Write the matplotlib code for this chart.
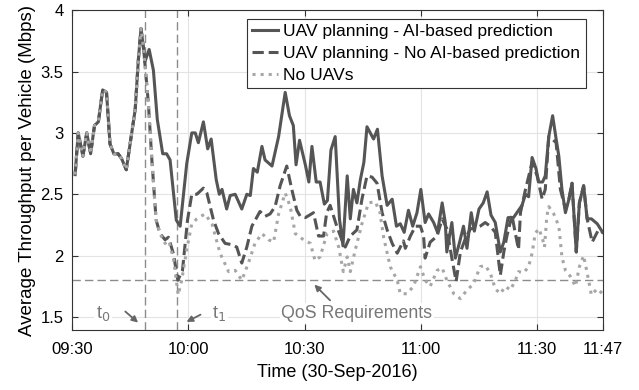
import matplotlib
matplotlib.use("Agg")
import matplotlib.pyplot as plt
import numpy as np

plt.rcParams['font.family'] = ['Liberation Sans', 'DejaVu Sans']

# minutes after 09:30 -- part shared by all three curves (before t0)
t_shared = [0.8, 1.6, 2.8, 3.8, 4.8, 5.8, 6.8, 7.9, 8.9, 9.8, 10.8, 11.9, 12.8,
            14.0, 15.4, 16.3, 17.1, 17.8, 18.4]
v_shared = [2.66, 3.0, 2.81, 3.0, 2.83, 3.06, 3.09, 3.35, 3.33, 2.91, 2.83, 2.83,
            2.79, 2.70, 3.0, 3.19, 3.59, 3.85, 3.70]

# UAV planning - AI-based prediction
t_ai = [18.8, 19.9, 21.0, 22.0, 23.4, 24.4, 25.3, 26.9, 27.9, 29.6, 30.9, 31.8,
        32.6, 33.9, 35.0, 35.9, 37.2, 38.0, 38.7, 39.9, 40.8, 42.1, 43.8, 45.1,
        46.0, 46.8, 47.8, 49.0, 49.8, 51.6, 53.3, 55.0, 56.1, 57.1, 57.8, 58.7,
        60.2, 61.1, 61.9, 63.0, 64.0, 65.1, 65.9, 66.8, 67.9, 69.0, 69.9, 71.0,
        71.8, 72.6, 73.5, 74.4, 75.3, 76.1, 77.8, 78.8, 80.0, 81.3, 82.6, 83.7,
        84.7, 85.7, 86.8, 87.9, 89.0, 90.0, 91.1, 92.0, 93.3, 94.3, 95.5, 96.3,
        96.7, 98.0, 98.9, 100.0, 101.0, 101.9, 103.0, 103.8, 105.0, 106.1, 107.1,
        108.1, 109.2, 110.5, 111.4, 112.5, 113.9, 115.2, 116.1, 117.0, 117.8,
        118.7, 119.7, 120.4, 121.4, 122.1, 123.0, 124.0, 124.9, 125.6, 126.4,
        127.3, 128.2, 129.0, 130.1, 130.9, 132.0, 132.9, 134.0, 135.5, 136.9]
v_ai = [3.58, 3.68, 3.51, 3.11, 2.83, 2.83, 2.78, 2.29, 2.24, 2.75, 3.0, 3.0,
        2.92, 3.09, 2.87, 2.95, 2.62, 2.50, 2.54, 2.38, 2.49, 2.50, 2.38, 2.50,
        2.49, 2.71, 2.68, 2.89, 2.78, 2.73, 2.97, 3.33, 3.14, 3.06, 2.74, 2.94,
        2.74, 2.60, 2.89, 2.60, 2.60, 2.42, 2.45, 2.86, 2.97, 2.30, 2.08, 2.65,
        2.30, 2.54, 2.43, 2.62, 2.76, 3.05, 2.95, 3.03, 2.65, 2.41, 2.46, 2.24,
        2.26, 2.19, 2.37, 2.24, 2.35, 2.54, 2.27, 2.34, 2.27, 2.19, 2.43, 2.27,
        2.03, 2.27, 1.98, 2.11, 2.24, 2.06, 2.35, 2.20, 2.38, 2.43, 2.52,
        2.33, 2.27, 2.03, 2.11, 2.31, 2.31, 2.37, 2.41, 2.50, 2.48,
        2.80, 2.71, 2.60, 2.60, 2.65, 2.97, 3.14, 2.95, 2.81, 2.54,
        2.35, 2.46, 2.59, 2.03, 2.43, 2.57, 2.30, 2.30, 2.26, 2.19]

# UAV planning - No AI-based prediction
t_noai = [19.0, 19.7, 20.6, 21.7, 22.7, 24.0, 24.9, 26.2, 27.3, 28.5, 29.8, 30.9,
          32.2, 33.9, 34.8, 36.5, 37.8, 39.5, 41.2, 42.5, 43.8, 45.1, 46.4, 48.5,
          49.8, 51.1, 52.4, 53.7, 55.4, 56.7, 58.0, 58.9, 60.2, 62.3, 63.6, 64.9,
          65.7, 66.6, 68.3, 69.6, 70.5, 71.8, 73.5, 74.8, 76.1, 77.4, 78.7, 80.0,
          81.3, 82.6, 83.9, 85.5, 86.0, 87.3, 88.6, 89.9, 90.7, 91.1, 92.4, 94.2,
          95.5, 96.7, 98.0, 99.1, 100.2, 101.5, 102.8, 104.0, 105.3, 106.6, 107.9,
          109.2, 110.5, 111.4, 112.2, 113.5, 114.2, 115.2, 115.7, 117.0, 118.7,
          120.0, 121.3, 122.1, 123.0, 123.9, 124.9, 126.0, 127.3, 128.2, 129.0,
          130.1, 130.9, 132.0, 132.9, 134.2, 135.8, 136.9]
v_noai = [3.50, 3.24, 2.78, 2.29, 2.18, 2.13, 2.15, 2.01, 1.80, 1.88, 2.29, 2.50,
          2.50, 2.55, 2.51, 2.29, 2.18, 2.10, 2.09, 2.07, 1.94, 2.07, 2.24, 2.36,
          2.32, 2.34, 2.40, 2.57, 2.73, 2.54, 2.37, 2.32, 2.31, 2.35, 2.16, 2.16,
          2.35, 2.41, 2.24, 2.13, 2.07, 2.16, 2.21, 2.46, 2.65, 2.64, 2.59, 2.35,
          2.21, 2.10, 2.02, 2.12, 2.06, 2.16, 2.24, 2.24, 2.16, 1.98, 2.11, 2.16,
          2.30, 2.22, 1.98, 1.79, 2.03, 2.14, 2.22, 2.22, 2.24, 2.27, 2.24,
          2.19, 1.84, 2.03, 2.16, 2.33, 2.21, 2.05, 2.35, 2.54, 2.76,
          2.65, 2.46, 2.54, 2.97, 2.95, 2.92, 2.54, 2.38, 2.46, 2.59,
          2.03, 2.43, 2.57, 2.30, 2.11, 2.21, 2.19]

# No UAVs
t_nouav = [19.0, 19.7, 20.6, 21.7, 22.7, 24.0, 25.0, 26.2, 27.4, 28.3, 29.6, 30.9,
           32.2, 34.3, 36.1, 38.2, 40.4, 42.1, 43.8, 45.5, 47.2, 49.0, 50.7, 52.0,
           53.3, 55.0, 56.3, 57.6, 59.7, 61.5, 62.7, 64.0, 65.8, 67.5, 68.8, 70.0,
           71.0, 71.8, 73.1, 74.8, 76.5, 78.2, 79.4, 80.4, 82.1, 83.9, 84.7, 86.4,
           88.1, 89.9, 91.1, 92.4, 94.2, 95.5, 96.7, 98.5, 100.2, 101.9, 103.6,
           105.3, 106.6, 107.9, 109.2, 110.5, 111.8, 113.1, 114.4, 115.2, 116.5,
           117.8, 118.7, 119.5, 120.4, 121.3, 121.9, 122.5, 123.0, 124.3, 125.6,
           126.4, 127.3, 128.6, 129.9, 130.9, 132.0, 132.9, 134.0, 135.5, 136.9]
v_nouav = [3.50, 3.24, 2.78, 2.29, 2.18, 2.10, 2.12, 1.97, 1.68, 1.80, 2.05, 2.26,
           2.30, 2.34, 2.26, 2.02, 1.87, 1.88, 1.80, 1.94, 2.10, 2.18, 2.13, 2.11,
           2.34, 2.51, 2.40, 2.18, 2.13, 2.10, 1.96, 1.99, 2.18, 2.20, 2.07, 1.87,
           1.99, 1.87, 2.05, 2.26, 2.43, 2.44, 2.36, 2.15, 1.91, 1.80, 1.69, 1.69,
           1.75, 1.91, 1.80, 1.75, 1.88, 1.90, 1.80, 1.69, 1.65, 1.72, 1.77,
           1.91, 1.92, 1.86, 1.73, 1.69, 1.75, 1.72, 1.80, 1.87, 1.86,
           1.91, 2.02, 2.18, 2.22, 2.15, 2.07, 2.32, 2.40, 2.34, 2.24,
           1.99, 1.88, 1.83, 1.75, 1.91, 2.00, 1.86, 1.68, 1.73, 1.69]

tick_pos = [0, 30, 60, 90, 120, 137]
tick_labels = ['09:30', '10:00', '10:30', '11:00', '11:30', '11:47']
t0, t1 = 18.8, 27.2
qos = 1.8

dark = '#555555'
light = '#a6a6a6'
ref = '#8c8c8c'

fig = plt.figure(figsize=(6.39, 3.9), dpi=100)
ax = fig.add_axes([0.1127, 0.154, 0.831, 0.82])

ax.plot(t_shared + t_ai, v_shared + v_ai, color=dark, lw=2.2, ls='-',
        label='UAV planning - AI-based prediction', zorder=3)
ax.plot(t_shared + t_noai, v_shared + v_noai, color=dark, lw=2.2, ls='--',
        label='UAV planning - No AI-based prediction', zorder=4)
ax.plot(t_shared + t_nouav, v_shared + v_nouav, color=light, lw=2.2, ls=':',
        label='No UAVs', zorder=5)

ax.axvline(t0, color=ref, lw=1, ls=(0, (6, 3)), zorder=1)
ax.axvline(t1, color=ref, lw=1, ls=(0, (6, 3)), zorder=1)
ax.axhline(qos, color=ref, lw=1, ls=(0, (6, 3)), zorder=1)

ax.set_xlim(0, 137)
ax.set_ylim(1.395, 4)
ax.set_xticks(tick_pos)
ax.set_xticklabels(tick_labels)
ax.set_yticks([1.5, 2, 2.5, 3, 3.5, 4])
ax.set_yticklabels(['1.5', '2', '2.5', '3', '3.5', '4'])
ax.tick_params(direction='in', top=True, right=True, labelsize=12, length=4,
               color='#333333')
ax.tick_params(axis='x', pad=9)
ax.tick_params(axis='y', pad=6)
ax.grid(True, color='#e3e3e3', lw=0.8)
ax.set_axisbelow(True)
for s in ax.spines.values():
    s.set_color('#333333')

ax.set_xlabel('Time (30-Sep-2016)', fontsize=13, labelpad=5)
ax.set_ylabel('Average Throughput per Vehicle (Mbps)', fontsize=13.5, labelpad=3)

box = dict(facecolor='white', edgecolor='none', pad=1)
arr = dict(arrowstyle='-|>', color='#666666', lw=1.3, mutation_scale=9)
ax.annotate('', xy=(17.6, 1.44), xytext=(13.2, 1.56), arrowprops=arr)
ax.text(8.0, 1.53, 't$_0$', color='#777777', fontsize=13, ha='center',
        va='center', bbox=box)
ax.annotate('', xy=(28.9, 1.45), xytext=(33.8, 1.53), arrowprops=arr)
ax.text(38.0, 1.53, 't$_1$', color='#777777', fontsize=13, ha='center',
        va='center', bbox=box)
ax.annotate('', xy=(62.0, 1.78), xytext=(67.1, 1.62), arrowprops=arr)
ax.text(73.5, 1.53, 'QoS Requirements', color='#777777', fontsize=12.8,
        ha='center', va='center', bbox=box)

leg = ax.legend(loc='upper right', bbox_to_anchor=(0.977, 0.99), fontsize=12.5,
                fancybox=False, framealpha=1, edgecolor='#333333',
                handlelength=1.5, handletextpad=0.3, borderpad=0.3,
                labelspacing=0.4, borderaxespad=0.3)
leg.get_frame().set_linewidth(0.8)

fig.savefig('out.png', dpi=100)
